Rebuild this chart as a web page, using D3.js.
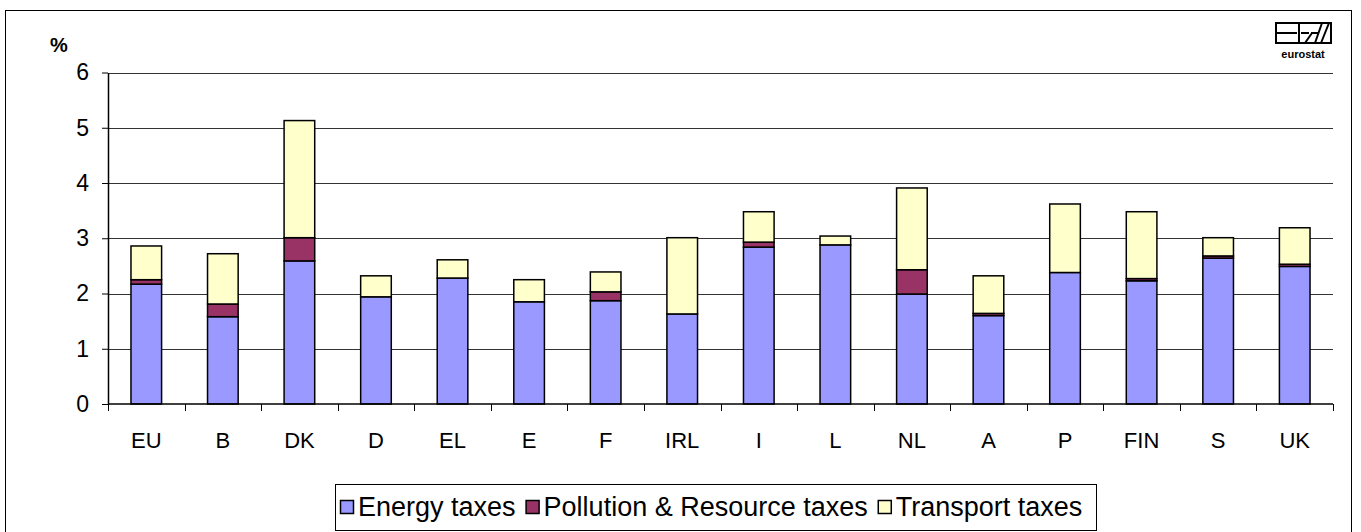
<!DOCTYPE html>
<html>
<head>
<meta charset="utf-8">
<script src="https://cdn.jsdelivr.net/npm/d3@7"></script>
<style>
  body { margin: 0; background: #fff; }
  text { font-family: "Liberation Sans", Arial, sans-serif; }
</style>
</head>
<body>
<svg id="grafica" width="1361" height="532"></svg>
<script>
// categories and series (% values)
var countries = ["EU", "B", "DK", "D", "EL", "E", "F", "IRL", "I", "L", "NL", "A", "P", "FIN", "S", "UK"];
var energy    = [2.17, 1.58, 2.59, 1.94, 2.28, 1.85, 1.87, 1.63, 2.84, 2.88, 1.99, 1.60, 2.38, 2.23, 2.64, 2.49];
var pollution = [0.08, 0.23, 0.42, 0.00, 0.00, 0.00, 0.16, 0.00, 0.09, 0.00, 0.44, 0.04, 0.00, 0.04, 0.04, 0.04];
var transport = [0.61, 0.91, 2.12, 0.38, 0.33, 0.40, 0.36, 1.38, 0.55, 0.16, 1.48, 0.68, 1.24, 1.21, 0.33, 0.66];
var seriesNames = ["Energy taxes", "Pollution & Resource taxes", "Transport taxes"];
var colors = ["#9999FF", "#993366", "#FFFFCC"];
var yTicks = [0, 1, 2, 3, 4, 5, 6];

var svg = d3.select("#grafica");

// outer frame
svg.append("rect")
  .attr("x", 5.5).attr("y", 10.5)
  .attr("width", 1346).attr("height", 540)
  .attr("fill", "none").attr("stroke", "#000").attr("stroke-width", 1);

var plotLeft = 108, plotRight = 1333, plotTop = 72.5, plotBottom = 404;

var x = d3.scaleBand()
  .domain(countries)
  .range([plotLeft, plotRight])
  .paddingInner(0.6)
  .paddingOuter(0.3);

var y = d3.scaleLinear()
  .domain([0, 6])
  .range([plotBottom, plotTop]);

// gridlines
svg.append("g")
  .selectAll("line")
  .data(yTicks.filter(d => d > 0))
  .enter().append("line")
  .attr("x1", plotLeft).attr("x2", plotRight)
  .attr("y1", d => Math.round(y(d)) + 0.5)
  .attr("y2", d => Math.round(y(d)) + 0.5)
  .attr("stroke", "#333").attr("stroke-width", 1);

// stacked data
var rows = countries.map((c, i) => ({country: c, energy: energy[i], pollution: pollution[i], transport: transport[i]}));
var stack = d3.stack().keys(["energy", "pollution", "transport"]);
var layers = stack(rows);

svg.append("g")
  .selectAll("g")
  .data(layers)
  .enter().append("g")
  .attr("fill", (d, i) => colors[i])
  .selectAll("rect")
  .data(d => d.filter(p => p[1] - p[0] > 0))
  .enter().append("rect")
  .attr("x", d => x(d.data.country))
  .attr("width", x.bandwidth())
  .attr("y", d => y(d[1]))
  .attr("height", d => y(d[0]) - y(d[1]))
  .attr("stroke", "#000")
  .attr("stroke-width", 1.5);

// y axis
var yAxis = svg.append("g")
  .attr("transform", `translate(${plotLeft},0)`)
  .call(d3.axisLeft(y).tickValues(yTicks).tickFormat(d3.format("d"))
    .tickSize(6).tickPadding(13).tickSizeOuter(0));
yAxis.select(".domain").attr("stroke", "#000").attr("stroke-width", 1.5);
yAxis.selectAll("line").attr("stroke", "#000");
yAxis.selectAll("text")
  .style("font-family", "Liberation Sans, Arial, sans-serif")
  .style("font-size", "23px")
  .attr("fill", "#000");

// x axis: ticks between categories
var step = x.step();
var xAxis = svg.append("g");
xAxis.append("line")
  .attr("x1", plotLeft).attr("x2", plotRight)
  .attr("y1", plotBottom).attr("y2", plotBottom)
  .attr("stroke", "#000").attr("stroke-width", 1.5);
xAxis.selectAll(".tick")
  .data(d3.range(countries.length + 1))
  .enter().append("line")
  .attr("x1", i => Math.round(plotLeft + i * step) + 0.5)
  .attr("x2", i => Math.round(plotLeft + i * step) + 0.5)
  .attr("y1", plotBottom).attr("y2", plotBottom + 7)
  .attr("stroke", "#000");
xAxis.selectAll("text")
  .data(countries)
  .enter().append("text")
  .attr("x", d => x(d) + x.bandwidth() / 2)
  .attr("y", 448)
  .attr("text-anchor", "middle")
  .style("font-size", "22px")
  .text(d => d);

// unit label
svg.append("text")
  .attr("x", 50).attr("y", 52)
  .style("font-size", "20px")
  .style("font-weight", "bold")
  .text("%");

// legend
var legend = svg.append("g");
legend.append("rect")
  .attr("x", 335.5).attr("y", 484.5)
  .attr("width", 761).attr("height", 46)
  .attr("fill", "#fff").attr("stroke", "#000");
var lx = 340;
seriesNames.forEach(function(name, i) {
  legend.append("rect")
    .attr("x", lx + 0.5).attr("y", 500.5)
    .attr("width", 13).attr("height", 13)
    .attr("fill", colors[i]).attr("stroke", "#000").attr("stroke-width", 1.5);
  var t = legend.append("text")
    .attr("x", lx + 18).attr("y", 516)
    .style("font-size", "27px")
    .text(name);
  lx += 18 + t.node().getComputedTextLength() + 10;
});

// eurostat logo
var logo = svg.append("g").attr("transform", "translate(1275,22)");
logo.append("rect").attr("x", 1).attr("y", 1).attr("width", 55).attr("height", 20)
  .attr("fill", "none").attr("stroke", "#000").attr("stroke-width", 2);
logo.append("path")
  .attr("d", "M1,11 H22 M24,1 V21 M26,11 H34 M40,21 L47,1 M30,21 L37,11 M36,11 H44 M46,21 L54,1")
  .attr("fill", "none").attr("stroke", "#000").attr("stroke-width", 2);
logo.append("text")
  .attr("x", 28).attr("y", 36)
  .attr("text-anchor", "middle")
  .style("font-size", "11px")
  .style("font-weight", "bold")
  .text("eurostat");
</script>
</body>
</html>
